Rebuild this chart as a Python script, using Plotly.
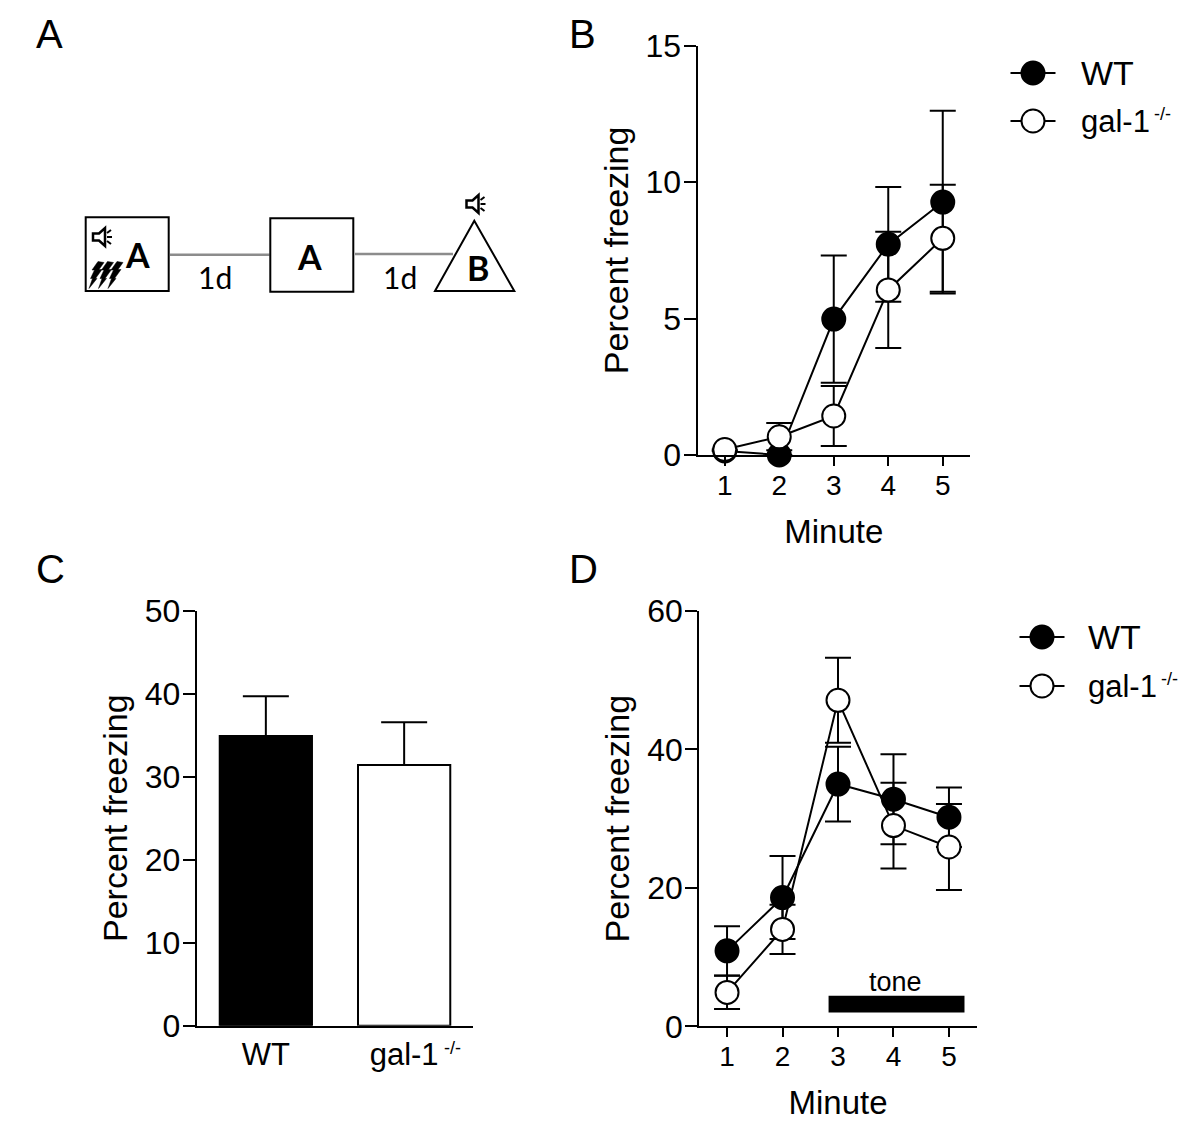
import plotly.graph_objects as go

W, H = 1200, 1141
PAGE_MARGIN = 8  # the browser's body margin, the figure starts here
FONT = "Liberation Sans"
DIAGRAM_FONT = "Lato"

# panel B, minutes vs percent freezing
minutes = [1, 2, 3, 4, 5]
b_wt = [0.15, 0.0, 4.98, 7.72, 9.27]
b_wt_err = [0, 0, 2.33, 2.1, 3.35]
b_gal = [0.2, 0.67, 1.43, 6.05, 7.94]
b_gal_err = [0, 0.5, 1.1, 2.13, 1.96]

# panel C
c_groups = ["WT", "gal-1"]
c_values = [34.9, 31.4]
c_err = [4.8, 5.15]

# panel D
d_wt = [10.9, 18.6, 35.0, 32.8, 30.2]
d_wt_err = [3.55, 6.0, 5.4, 6.5, 4.3]
d_gal = [4.9, 14.0, 47.1, 29.0, 25.9]
d_gal_err = [2.4, 3.55, 6.15, 6.2, 6.2]
tone_span = [2.83, 5.28]
tone_level = [2.0, 4.4]

FIG_W, FIG_H = W - PAGE_MARGIN, H - PAGE_MARGIN

def domx(a, b):
    return [(a - PAGE_MARGIN) / FIG_W, (b - PAGE_MARGIN) / FIG_W]

def domy(top, bottom):
    return [1 - (bottom - PAGE_MARGIN) / FIG_H, 1 - (top - PAGE_MARGIN) / FIG_H]

def series(x, y, err, filled, xa, ya, mode="lines+markers"):
    return go.Scatter(
        x=x, y=y, xaxis=xa, yaxis=ya, mode=mode, cliponaxis=False,
        line=dict(color="black", width=2),
        marker=dict(size=23, color="black" if filled else "white", line=dict(color="black", width=2)),
        error_y=dict(type="data", array=err, color="black", thickness=2, width=13),
        showlegend=False,
    )

fig = go.Figure()
fig.add_trace(series(minutes, b_wt, b_wt_err, True, "x", "y"))
fig.add_trace(series(minutes, b_gal, b_gal_err, False, "x", "y"))
fig.add_trace(go.Bar(
    x=c_groups, y=c_values, xaxis="x2", yaxis="y2", width=0.667,
    marker=dict(color=["black", "white"], line=dict(color="black", width=2)),
    error_y=dict(type="data", symmetric=False, array=c_err, arrayminus=[0, 0], color="black", thickness=2, width=23),
    showlegend=False,
))
# in D the gal-1 line runs behind the filled circles, its circles stay on top of the WT bars
fig.add_trace(go.Scatter(x=minutes, y=d_gal, xaxis="x3", yaxis="y3", mode="lines", cliponaxis=False,
                         line=dict(color="black", width=2), showlegend=False))
fig.add_trace(series(minutes, d_wt, d_wt_err, True, "x3", "y3"))
fig.add_trace(series(minutes, d_gal, d_gal_err, False, "x3", "y3", mode="markers"))

axis = dict(showgrid=False, zeroline=False, showline=True, linecolor="black", linewidth=2,
            ticks="outside", tickcolor="black", tickwidth=2, automargin=False)
title_font = dict(family=FONT, size=34, color="black")
ytick = dict(family=FONT, size=32, color="black")
xtick = dict(family=FONT, size=28, color="black")
y_opts = dict(ticklen=12, tickfont=ytick, ticklabelstandoff=-4)
x_opts = dict(ticklen=9, tickfont=xtick, ticklabelstandoff=-5)
y_title = dict(text="Percent freezing", font=title_font, standoff=7)
x_title = dict(text="Minute", font=dict(title_font, size=33), standoff=20)

fig.update_layout(
    width=FIG_W, height=FIG_H, margin=dict(l=0, r=0, t=0, b=0, autoexpand=False),
    paper_bgcolor="white", plot_bgcolor="rgba(0,0,0,0)", showlegend=False,
    xaxis=dict(axis, domain=domx(697.5, 970), range=[0.5, 5.5], tickvals=minutes, title=x_title, anchor="y", **x_opts),
    yaxis=dict(axis, domain=domy(45.7, 455), range=[0, 15], tickvals=[0, 5, 10, 15], title=y_title, anchor="x", **y_opts),
    xaxis2=dict(axis, domain=domx(196.7, 473.3), range=[-0.5, 1.5], type="category", ticks="", tickfont=dict(xtick, size=31), anchor="y2"),
    yaxis2=dict(axis, domain=domy(610.7, 1025.7), range=[0, 50], tickvals=[0, 10, 20, 30, 40, 50], title=y_title, anchor="x2", **y_opts),
    xaxis3=dict(axis, domain=domx(699.3, 976.7), range=[0.5, 5.5], tickvals=minutes, title=x_title, anchor="y3", **x_opts),
    yaxis3=dict(axis, domain=domy(611, 1026.3), range=[0, 60], tickvals=[0, 20, 40, 60], title=y_title, anchor="x3", **y_opts),
    # overlay in page pixels for the schematic and the legend keys
    xaxis4=dict(domain=[0, 1], range=[PAGE_MARGIN, W], visible=False, anchor="y4", fixedrange=True),
    yaxis4=dict(domain=[0, 1], range=[H, PAGE_MARGIN], visible=False, anchor="x4", fixedrange=True),
)
fig.add_trace(go.Scatter(x=[PAGE_MARGIN], y=[PAGE_MARGIN], xaxis="x4", yaxis="y4", mode="markers", marker=dict(opacity=0), showlegend=False, hoverinfo="skip"))

shapes = []
notes = []

def px_shape(**kw):
    kw.setdefault("xref", "x4")
    kw.setdefault("yref", "y4")
    shapes.append(kw)

def px_text(x, y, text, size, family=FONT, bold=False, xanchor="center"):
    if bold:
        text = "<b>" + text + "</b>"
    notes.append(dict(xref="x4", yref="y4", x=x, y=y, text=text, showarrow=False, xanchor=xanchor, yanchor="middle",
                      font=dict(family=family, size=size, color="black")))

def path(points, close=True):
    d = "M" + " L".join(f"{x:.1f},{y:.1f}" for x, y in points)
    return d + (" Z" if close else "")

# tone bar in panel D
shapes.append(dict(type="rect", xref="x3", yref="y3", x0=tone_span[0], x1=tone_span[1], y0=tone_level[0], y1=tone_level[1],
                   fillcolor="black", line=dict(width=0)))
px_text(895, 982, "tone", 27)

# panel letters
for letter, lx, ly in [("A", 49, 34), ("B", 582, 34), ("C", 50, 569), ("D", 583, 569)]:
    px_text(lx, ly, letter, 40)

# superscript of the bar label in C
px_text(452, 1048, "-/-", 18)

# legends
for lx, ly_wt, ly_gal, tx in [(1033, 73, 121, 1079), (1042, 637, 686, 1086)]:
    for ly, fill in [(ly_wt, "black"), (ly_gal, "white")]:
        px_shape(type="line", x0=lx - 22.5, x1=lx + 22.5, y0=ly, y1=ly, line=dict(color="black", width=2))
        px_shape(type="circle", x0=lx - 11.5, x1=lx + 11.5, y0=ly - 11.5, y1=ly + 11.5, fillcolor=fill, line=dict(color="black", width=2))
    px_text(tx, ly_wt, "WT", 34, xanchor="left")
    px_text(tx, ly_gal, "gal-1", 31, xanchor="left")
    px_text(tx + 83, ly_gal - 7, "-/-", 18)

# schematic in panel A
gray = "#8c8c8c"
px_shape(type="line", x0=170, x1=269.5, y0=254.7, y1=254.7, line=dict(color=gray, width=2.5))
px_shape(type="line", x0=355, x1=453, y0=254, y1=254, line=dict(color=gray, width=2.5))
px_shape(type="rect", x0=85.7, x1=168.7, y0=217.3, y1=291, line=dict(color="black", width=2))
px_shape(type="rect", x0=270.3, x1=353.3, y0=218.3, y1=291.7, line=dict(color="black", width=2))
px_shape(type="path", path=path([(474.3, 220.7), (435, 291), (514.3, 291)]), line=dict(color="black", width=2))
px_text(137, 254, "A", 34, DIAGRAM_FONT, True)
px_text(309.5, 256, "A", 34, DIAGRAM_FONT, True)
px_text(477.5, 267, "B", 34, DIAGRAM_FONT, True)
px_text(215, 277, "1d", 30, DIAGRAM_FONT)
px_text(400, 277, "1d", 30, DIAGRAM_FONT)

speaker_body = [(0, 5.5), (6, 5.5), (12, 0), (12, 18), (6, 12.5), (0, 12.5)]
speaker_rays = [[(14, 5), (18, 2)], [(14, 9), (19, 9)], [(14, 13), (18, 16)]]
for ox, oy in [(93, 228), (466.5, 195)]:
    px_shape(type="path", path=path([(ox + x, oy + y) for x, y in speaker_body]), line=dict(color="black", width=2.5))
    for ray in speaker_rays:
        px_shape(type="path", path=path([(ox + x, oy + y) for x, y in ray], close=False), line=dict(color="black", width=2))

bolt = [(9, 0), (15, 1), (10, 8), (13, 8), (6.5, 17), (8, 17), (0, 27), (3.5, 17), (1.5, 17), (5.5, 8.5), (3, 8.5)]
for ox in [89, 98.5, 108]:
    px_shape(type="path", path=path([(ox + x, 261.5 + y) for x, y in bolt]), fillcolor="black", line=dict(color="black", width=0.5))

fig.update_layout(shapes=shapes, annotations=notes)
fig.write_html("out.html")
